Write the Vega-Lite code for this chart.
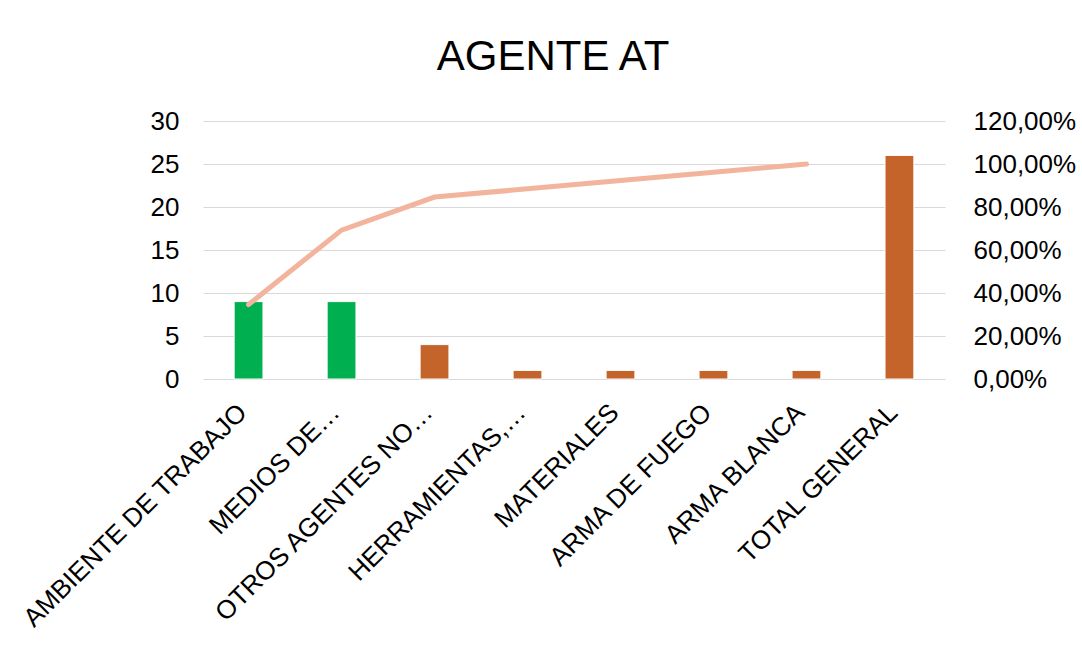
{
  "$schema": "https://vega.github.io/schema/vega-lite/v6.json",
  "width": 742,
  "height": 258,
  "autosize": {"type": "none"},
  "padding": {"left": 203, "top": 121, "right": 137, "bottom": 273},
  "background": "white",
  "title": {"text": "AGENTE AT", "fontSize": 42, "font": "Liberation Sans", "fontWeight": "normal", "color": "#000000", "anchor": "middle", "offset": 29, "dx": -21},
  "config": {
    "view": {"stroke": null},
    "font": "Liberation Sans",
    "locale": {"number": {"decimal": ",", "thousands": ".", "grouping": [3], "currency": ["", " €"]}}
  },
  "data": {"values": [
    {"agente": "AMBIENTE DE TRABAJO", "casos": 9, "acum": 0.3462, "grupo": "verde"},
    {"agente": "MEDIOS DE…", "casos": 9, "acum": 0.6923, "grupo": "verde"},
    {"agente": "OTROS AGENTES NO…", "casos": 4, "acum": 0.8462, "grupo": "naranja"},
    {"agente": "HERRAMIENTAS,…", "casos": 1, "acum": 0.8846, "grupo": "naranja"},
    {"agente": "MATERIALES", "casos": 1, "acum": 0.9231, "grupo": "naranja"},
    {"agente": "ARMA DE FUEGO", "casos": 1, "acum": 0.9615, "grupo": "naranja"},
    {"agente": "ARMA BLANCA", "casos": 1, "acum": 1.0, "grupo": "naranja"},
    {"agente": "TOTAL GENERAL", "casos": 26, "acum": null, "grupo": "naranja"}
  ]},
  "encoding": {
    "x": {
      "field": "agente", "type": "nominal", "sort": null, "title": null,
      "scale": {"paddingInner": 0.69, "paddingOuter": 0.335},
      "axis": {"labelAngle": -45, "labelAlign": "right", "labelBaseline": "middle", "labelFontSize": 26, "labelColor": "#000000", "labelPadding": 29, "labelOffset": -6, "ticks": false, "domain": false, "labelLimit": 500}
    }
  },
  "layer": [
    {
      "mark": {"type": "bar", "stroke": "white", "strokeWidth": 1},
      "encoding": {
        "y": {
          "field": "casos", "type": "quantitative", "title": null,
          "scale": {"domain": [0, 30], "nice": false},
          "axis": {"values": [0, 5, 10, 15, 20, 25, 30], "grid": true, "gridColor": "#d9d9d9", "gridWidth": 1, "domain": false, "ticks": false, "labelFontSize": 26, "labelColor": "#000000", "labelPadding": 24}
        },
        "color": {"field": "grupo", "type": "nominal", "scale": {"domain": ["verde", "naranja"], "range": ["#00b050", "#c4642a"]}, "legend": null}
      }
    },
    {
      "mark": {"type": "line", "color": "#f2b49c", "strokeWidth": 5, "strokeCap": "round"},
      "transform": [{"filter": "datum.acum != null"}],
      "encoding": {
        "y": {
          "field": "acum", "type": "quantitative", "title": null,
          "scale": {"domain": [0, 1.2], "nice": false},
          "axis": {"orient": "right", "values": [0, 0.2, 0.4, 0.6, 0.8, 1.0, 1.2], "format": ".2%", "grid": false, "domain": false, "ticks": false, "labelFontSize": 26, "labelColor": "#000000", "labelPadding": 28}
        }
      }
    }
  ],
  "resolve": {"scale": {"y": "independent"}}
}
